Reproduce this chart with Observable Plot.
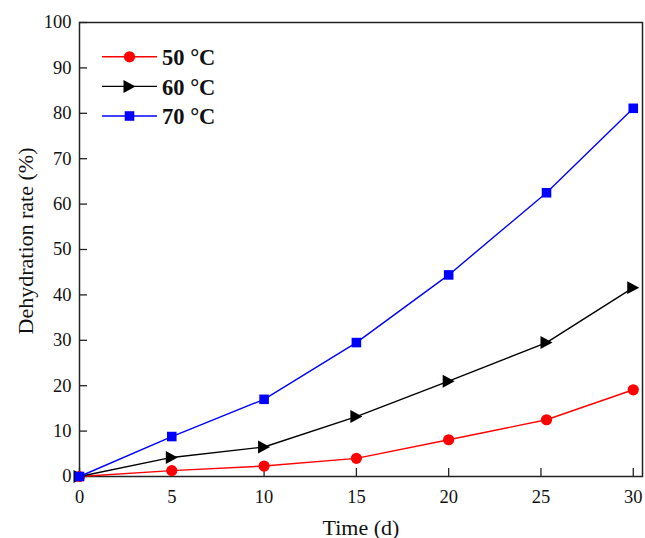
<!DOCTYPE html>
<html><head><meta charset="utf-8">
<script src="https://cdn.jsdelivr.net/npm/d3@7"></script>
<script src="https://cdn.jsdelivr.net/npm/@observablehq/plot@0.6"></script>
<style>
body{margin:0;background:#fff}
#chart{position:relative;width:645px;height:538px}
</style>
</head><body><div id="chart"></div>
<script>
// ---- data ----
const days = [0, 5, 10, 15, 20, 25.3, 30];
const seriesNames = ["50 °C", "60 °C", "70 °C"];
const rate50 = [0, 1.3, 2.3, 4.0, 8.1, 12.5, 19.1];
const rate60 = [0, 4.2, 6.5, 13.2, 21.0, 29.5, 41.6];
const rate70 = [0, 8.8, 17.0, 29.5, 44.4, 62.5, 81.1];
const xTicks = [0, 5, 10, 15, 20, 25, 30];
const yTicks = [0, 10, 20, 30, 40, 50, 60, 70, 80, 90, 100];
const xLabel = "Time (d)";
const yLabel = "Dehydration rate (%)";

// ---- styles ----
const colors = ["#ff0000", "#000000", "#0000ff"];
const rightTriangle = {
  draw(ctx, size) {
    const r = Math.sqrt(size / Math.PI);
    ctx.moveTo(-r, -1.08 * r);
    ctx.lineTo(r, 0);
    ctx.lineTo(-r, 1.08 * r);
    ctx.closePath();
  }
};
const symbols = ["circle", rightTriangle, "square"];
const radii = [5.6, 6, 5.4];
const font = "Liberation Serif";

const allRates = [rate50, rate60, rate70];
const table = seriesNames.map((name, i) => days.map((d, j) => ({series: name, day: d, rate: allRates[i][j]})));

const marks = [];
table.forEach((rows, i) => {
  marks.push(Plot.line(rows, {x: "day", y: "rate", stroke: colors[i], strokeWidth: 1.4}));
  marks.push(Plot.dot(rows, {x: "day", y: "rate", fill: colors[i], stroke: "none", symbol: symbols[i], r: radii[i]}));
});

const plot = Plot.plot({
  width: 645,
  height: 538,
  marginLeft: 79,
  marginRight: 3,
  marginTop: 22,
  marginBottom: 62,
  style: {fontFamily: font, background: "#fff", color: "#111"},
  x: {domain: [0, 30.5]},
  y: {domain: [0, 100]},
  marks: [
    // inward ticks
    Plot.axisX(xTicks, {tickSize: 8, dy: -8, tickFormat: () => "", label: null, stroke: "#222", strokeWidth: 1.3}),
    Plot.axisY(yTicks, {tickSize: 8, dx: 8, tickFormat: () => "", label: null, stroke: "#222", strokeWidth: 1.3}),
    // tick labels
    Plot.axisX(xTicks, {tickSize: 0, tickPadding: 13, fontSize: 18.5, label: null, fill: "#111"}),
    Plot.axisY(yTicks, {tickSize: 0, tickPadding: 8, fontSize: 18.5, label: null, fill: "#111"}),
    Plot.frame({stroke: "#222", strokeWidth: 1.5}),
    ...marks,
    Plot.text([xLabel], {text: d => d, frameAnchor: "bottom", lineAnchor: "bottom", dy: 58, fontSize: 22, fill: "#111"}),
    Plot.text([yLabel], {text: d => d, frameAnchor: "left", textAnchor: "middle", lineAnchor: "bottom", rotate: -90, dx: -47, dy: -8.5, fontSize: 22, fill: "#111"})
  ]
});

document.getElementById("chart").appendChild(plot);

// ---- legend ----
const svg = d3.select(plot);
const lg = svg.append("g").attr("class", "legend").attr("text-anchor", "start");
const d3types = [d3.symbolCircle, rightTriangle, d3.symbolSquare];
seriesNames.forEach((name, i) => {
  const y = 56.8 + i * 29.6;
  const g = lg.append("g").attr("transform", `translate(0,${y})`);
  g.append("line").attr("x1", 102).attr("x2", 157).attr("y1", 0).attr("y2", 0)
    .attr("stroke", colors[i]).attr("stroke-width", 1.4);
  g.append("path").attr("transform", "translate(129.5,0)")
    .attr("d", d3.symbol().type(d3types[i]).size(Math.PI * radii[i] * radii[i])())
    .attr("fill", colors[i]);
  g.append("text").attr("x", 162).attr("y", 8.3).attr("text-anchor", "start").text(name)
    .attr("font-family", font).attr("font-weight", "bold").attr("font-size", 22.5).attr("fill", "#111");
});
</script>
</body></html>
